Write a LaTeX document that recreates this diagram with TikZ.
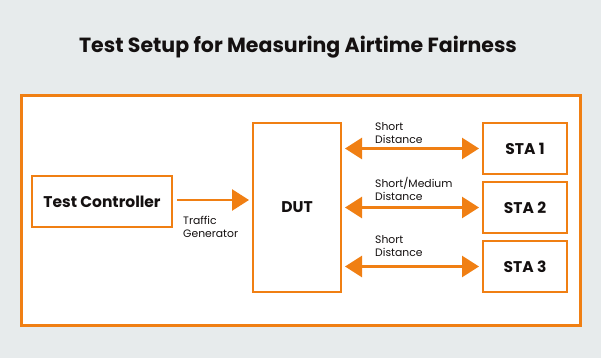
\documentclass[tikz,border=0pt]{standalone}
\usepackage{fontspec}
\setmainfont{Poppins}
\usetikzlibrary{arrows.meta}
\definecolor{bg}{HTML}{E7EBEC}
\definecolor{org}{HTML}{F07F13}
\definecolor{ink}{HTML}{141010}
\begin{document}
\begin{tikzpicture}[x=1pt,y=-1pt,
  box/.style={draw=org,line width=2pt,fill=white,inner sep=0pt,anchor=north west,font=\bfseries\fontsize{15.5}{17}\selectfont,text=ink},
  lbl/.style={font=\fontsize{10.8}{13.2}\selectfont,text=ink,align=left,anchor=north west,inner sep=0pt},
  conn/.style={draw=org,line width=2.6pt,-{Triangle[width=21pt,length=17pt]}},
  dconn/.style={draw=org,line width=2.6pt,{Triangle[width=21pt,length=17pt]}-{Triangle[width=21pt,length=17pt]}}]
\fill[bg] (0,0) rectangle (601,358);
\useasboundingbox (0,0) rectangle (601,358);
\node[font=\bfseries\fontsize{20.5}{24}\selectfont,text=ink] (title) at (298,47) {Test Setup for Measuring Airtime Fairness};
\draw[org,line width=3pt,fill=white] (21,96) rectangle (580,325);
\node[box,minimum width=140pt,minimum height=51pt] (tc) at (31,175) {Test Controller};
\node[box,minimum width=88pt,minimum height=169pt] (dut) at (252,122) {DUT};
\node[box,minimum width=84pt,minimum height=51pt] (s1) at (482,122) {STA 1};
\node[box,minimum width=84pt,minimum height=51pt] (s2) at (482,181) {STA 2};
\node[box,minimum width=84pt,minimum height=51pt] (s3) at (482,240) {STA 3};
\coordinate (a0) at (177,200);
\draw[conn] (a0) -- ([xshift=-3pt]dut.west|-a0);
\node[lbl] (tg) at (183,216) {Traffic\\Generator};
\draw[dconn] ([xshift=3pt]dut.east|-s1.west) -- ([xshift=-3pt]s1.west);
\draw[dconn] ([xshift=3pt]dut.east|-s2.west) -- ([xshift=-3pt]s2.west);
\draw[dconn] ([xshift=3pt]dut.east|-s3.west) -- ([xshift=-3pt]s3.west);
\node[lbl] (l1) at (375,122) {Short\\Distance};
\node[lbl] (l2) at (375,177) {Short/Medium\\Distance};
\node[lbl] (l3) at (375,235) {Short\\Distance};
\end{tikzpicture}
\end{document}
